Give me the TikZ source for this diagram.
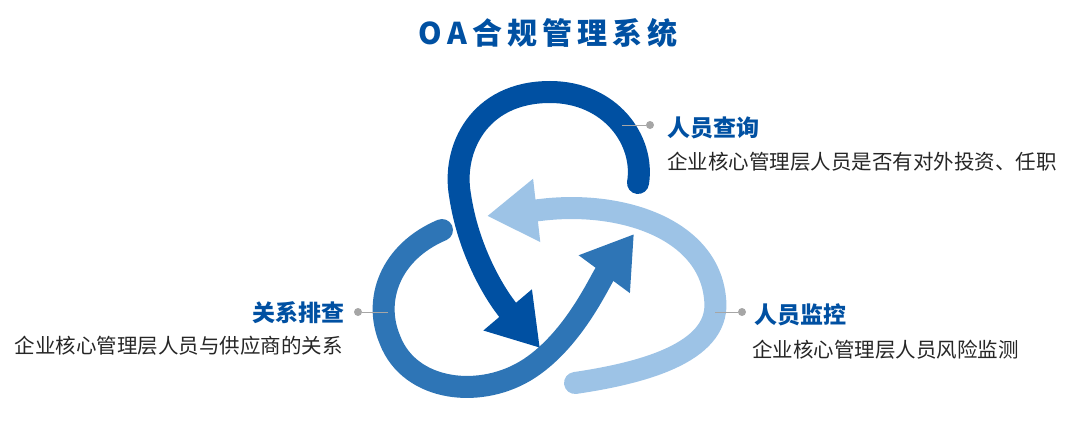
\documentclass[tikz,border=0pt]{standalone}
\usepackage{fontspec}
\setmainfont{Noto Sans CJK SC}
\usetikzlibrary{arrows.meta,positioning}
\definecolor{darkblue}{HTML}{0050A2}
\definecolor{midblue}{HTML}{2E75B6}
\definecolor{lightblue}{HTML}{9DC3E6}
\definecolor{dotgray}{HTML}{A6A6A6}
\tikzset{
  loop arrow/.style={line width=22pt, line cap=round, -{Triangle[width=60pt,length=50pt]}},
  head text/.style={font=\fontsize{23}{23}\selectfont\bfseries, text=darkblue, inner sep=0pt},
  body text/.style={font=\fontsize{20.5}{20.5}\selectfont, text=black!85, inner sep=0pt},
  main dot/.style={circle, fill=dotgray, inner sep=0pt, minimum size=8pt}
}
\begin{document}
\begin{tikzpicture}[x=1pt,y=-1pt]
  \useasboundingbox (0,0) rectangle (1080,423);

  \node[font=\fontsize{30}{30}\selectfont\bfseries, text=darkblue] (title) at (548,33) {O\,A\,合\,规\,管\,理\,系\,统};

  % the three loops
  \draw[loop arrow, lightblue] (575,383) .. controls (650,372) and (722,350) .. (715,298)
    .. controls (708,228) and (620,200) .. (540,210) -- (487,216);
  \draw[loop arrow, midblue] (442,230) .. controls (390,252) and (373,300) .. (390,340)
    .. controls (410,392) and (482,400) .. (530,368) .. controls (575,338) and (600,280) .. (634,234);
  \draw[loop arrow, darkblue] (638,183) .. controls (645,140) and (610,92) .. (550,92)
    .. controls (478,92) and (452,150) .. (460,195) .. controls (468,250) and (495,295) .. (540,348);

  % labels
  \node[main dot] (d1) at (650,125) {};
  \coordinate (e1) at (622,125);
  \draw[dotgray, line width=1pt] (e1) -- (d1);
  \node[head text, anchor=west] (query) at (667,128) {人员查询};
  \node[body text, anchor=west] (queryt) at (667,162) {企业核心管理层人员是否有对外投资、任职};

  \node[main dot] (d2) at (742,312) {};
  \coordinate (e2) at (715,312);
  \draw[dotgray, line width=1pt] (e2) -- (d2);
  \node[head text, anchor=west] (monitor) at (754,315) {人员监控};
  \node[body text, anchor=west] (monitort) at (752,350) {企业核心管理层人员风险监测};

  \node[main dot] (d3) at (358,312) {};
  \coordinate (e3) at (388,312);
  \draw[dotgray, line width=1pt] (e3) -- (d3);
  \node[head text, anchor=east] (check) at (345,313) {关系排查};
  \node[body text, anchor=east] (checkt) at (343,346) {企业核心管理层人员与供应商的关系};
\end{tikzpicture}
\end{document}
